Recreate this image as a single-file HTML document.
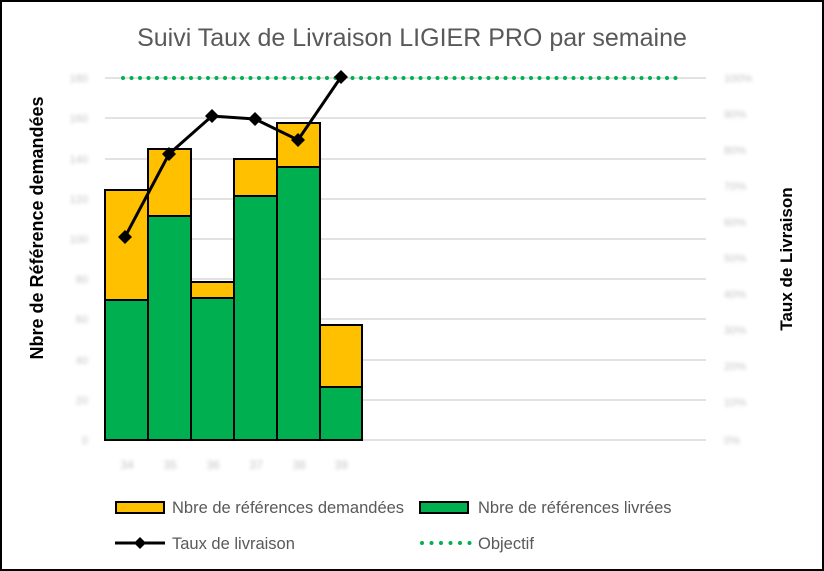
<!DOCTYPE html>
<html><head><meta charset="utf-8"><style>
html,body{margin:0;padding:0;background:#fff}
svg{display:block}
.b{filter:blur(1.8px)}
</style></head><body>
<svg width="824" height="571" xmlns="http://www.w3.org/2000/svg" font-family="Liberation Sans, sans-serif">
<rect x="1" y="1" width="822" height="569" fill="#fff" stroke="#000" stroke-width="2"/>
<text x="412" y="46" text-anchor="middle" font-size="25" fill="#595959">Suivi Taux de Livraison LIGIER PRO par semaine</text>
<g stroke="#d9d9d9" stroke-width="1.5">
<line x1="105" x2="706" y1="78" y2="78"/><line x1="105" x2="706" y1="118" y2="118"/>
<line x1="105" x2="706" y1="159" y2="159"/><line x1="105" x2="706" y1="199" y2="199"/>
<line x1="105" x2="706" y1="239" y2="239"/><line x1="105" x2="706" y1="279" y2="279"/>
<line x1="105" x2="706" y1="319" y2="319"/><line x1="105" x2="706" y1="360" y2="360"/>
<line x1="105" x2="706" y1="400" y2="400"/><line x1="105" x2="706" y1="440" y2="440"/>
</g>
<g class="b" font-size="11" fill="#c4c4c4" text-anchor="end">
<text x="88" y="82">180</text><text x="88" y="122">160</text><text x="88" y="163">140</text>
<text x="88" y="203">120</text><text x="88" y="243">100</text><text x="88" y="283">80</text>
<text x="88" y="323">60</text><text x="88" y="364">40</text><text x="88" y="404">20</text><text x="88" y="444">0</text>
</g>
<g class="b" font-size="11" fill="#c4c4c4">
<text x="724" y="82">100%</text><text x="724" y="118">90%</text><text x="724" y="154">80%</text>
<text x="724" y="190">70%</text><text x="724" y="226">60%</text><text x="724" y="262">50%</text>
<text x="724" y="298">40%</text><text x="724" y="334">30%</text><text x="724" y="370">20%</text>
<text x="724" y="406">10%</text><text x="724" y="444">0%</text>
</g>
<g class="b" font-size="12" fill="#c4c4c4" text-anchor="middle">
<text x="127" y="469">34</text><text x="170" y="469">35</text><text x="213" y="469">36</text>
<text x="256" y="469">37</text><text x="299" y="469">38</text><text x="341" y="469">39</text>
</g>
<g stroke="#000" stroke-width="2">
<rect x="105" y="190" width="43" height="110" fill="#ffc000"/><rect x="105" y="300" width="43" height="140" fill="#00b050"/>
<rect x="148" y="149" width="43" height="67" fill="#ffc000"/><rect x="148" y="216" width="43" height="224" fill="#00b050"/>
<rect x="191" y="282" width="43" height="16" fill="#ffc000"/><rect x="191" y="298" width="43" height="142" fill="#00b050"/>
<rect x="234" y="159" width="43" height="37" fill="#ffc000"/><rect x="234" y="196" width="43" height="244" fill="#00b050"/>
<rect x="277" y="123" width="43" height="44" fill="#ffc000"/><rect x="277" y="167" width="43" height="273" fill="#00b050"/>
<rect x="320" y="325" width="42" height="62" fill="#ffc000"/><rect x="320" y="387" width="42" height="53" fill="#00b050"/>
</g>
<line x1="123" x2="682" y1="78" y2="78" stroke="#00b050" stroke-width="4" stroke-linecap="round" stroke-dasharray="0 8.5"/>
<polyline points="125,237 169,154 212,116 255,119 298,140 341,77" fill="none" stroke="#000" stroke-width="3"/>
<g fill="#000">
<path d="M125 230l7 7-7 7-7-7z"/><path d="M169 147l7 7-7 7-7-7z"/><path d="M212 109l7 7-7 7-7-7z"/>
<path d="M255 112l7 7-7 7-7-7z"/><path d="M298 133l7 7-7 7-7-7z"/><path d="M341 70l7 7-7 7-7-7z"/>
</g>
<text transform="translate(43,228) rotate(-90)" text-anchor="middle" font-size="18" font-weight="bold">Nbre de Référence demandées</text>
<text transform="translate(792,259) rotate(-90)" text-anchor="middle" font-size="17" font-weight="bold">Taux de Livraison</text>
<rect x="116" y="502" width="48" height="11" fill="#ffc000" stroke="#000" stroke-width="2"/>
<text x="172" y="513" font-size="16.5" fill="#595959">Nbre de références demandées</text>
<rect x="420" y="502" width="48" height="11" fill="#00b050" stroke="#000" stroke-width="2"/>
<text x="478" y="513" font-size="16.5" fill="#595959">Nbre de références livrées</text>
<line x1="115" x2="165" y1="543" y2="543" stroke="#000" stroke-width="3"/>
<path d="M140 537l6 6-6 6-6-6z" fill="#000"/>
<text x="172" y="549" font-size="16.5" fill="#595959">Taux de livraison</text>
<line x1="422" x2="470" y1="543" y2="543" stroke="#00b050" stroke-width="4" stroke-linecap="round" stroke-dasharray="0 9.5"/>
<text x="478" y="549" font-size="16.5" fill="#595959">Objectif</text>
</svg>
</body></html>
